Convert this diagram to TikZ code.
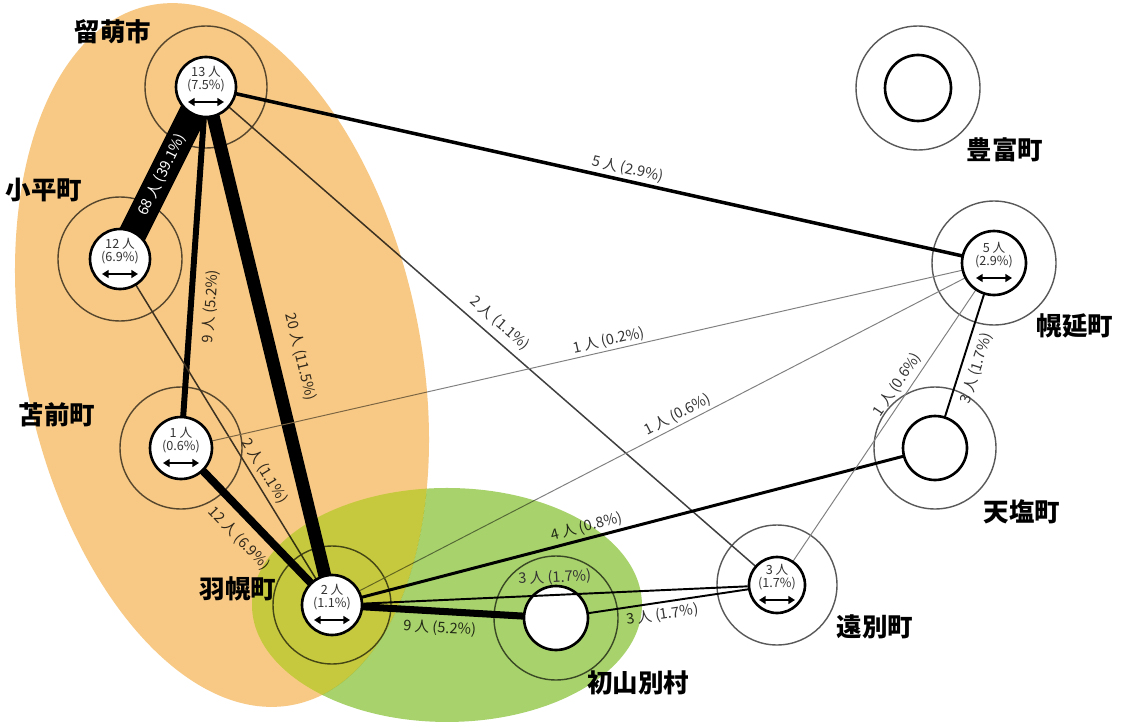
\documentclass[tikz,border=0pt]{standalone}
\usepackage{fontspec}
\setmainfont{Noto Sans CJK JP}
\usetikzlibrary{arrows.meta}
\pgfdeclarelayer{bg}
\pgfdeclarelayer{edges}
\pgfdeclarelayer{tint}
\pgfsetlayers{bg,edges,tint,main}

\definecolor{orangeT}{RGB}{247,201,133}
\definecolor{greenT}{RGB}{168,210,108}
\definecolor{overT}{RGB}{205,255,118}

\newcommand\labfont{\fontsize{8.3}{9}\selectfont}
\newcommand\incirc{\fontsize{7.2}{7.8}\selectfont}
\newcommand\townfont{\fontsize{14.5}{16}\selectfont\bfseries}

\tikzset{
 outerc/.style={circle, draw=black!65, line width=0.8pt, minimum size=#1, inner sep=0pt},
 innerc/.style={circle, draw=black, line width=1.5pt, fill=white, minimum size=#1, inner sep=0pt},
 cnt/.style={font=\incirc, align=center, inner sep=0pt, text=black!80},
 dbl/.style={{Triangle[length=3.8pt,width=4.5pt]}-{Triangle[length=3.8pt,width=4.5pt]}, line width=0.9pt},
 town/.style={font=\townfont, inner sep=0pt},
 lab/.style={font=\labfont, sloped, text=black!80},
 e1/.style={draw=black!50, line width=0.55pt},
 e2/.style={draw=black!75, line width=0.85pt},
 e3/.style={draw=black, line width=1.1pt},
 e4/.style={draw=black, line width=1.7pt},
 e5/.style={draw=black, line width=2pt},
 e9/.style={draw=black, line width=3.4pt},
 e9b/.style={draw=black, line width=4pt},
 e12/.style={draw=black, line width=4.5pt},
 e20/.style={draw=black, line width=7.4pt},
 e68/.style={draw=black, line width=16pt},
}

\newcommand\cinfo[3]{%
 \node[cnt] (#1-t) at ([shift={(0,-8)}]#1.center) {#2\\#3};
 \coordinate (#1-al) at ([shift={(-18,15)}]#1.center);
 \coordinate (#1-ar) at ([shift={(18,15)}]#1.center);
 \draw[dbl] (#1-al) -- (#1-ar);
}

\begin{document}
\begin{tikzpicture}[x=0.02cm, y=-0.02cm]
\useasboundingbox (0,0) rectangle (1125,723);
\begin{pgfonlayer}{bg}
\fill[white] (-10,-10) rectangle (1135,733);
\end{pgfonlayer}

% inner circles
\node[innerc=1.2cm]  (ru)  at (206,87)  {};
\node[innerc=1.2cm]  (ko)  at (120,259) {};
\node[innerc=1.24cm] (to)  at (181,448) {};
\node[innerc=1.2cm]  (ha)  at (332,605) {};
\node[innerc=1.28cm] (sh)  at (556,618) {};
\node[innerc=1.12cm] (en)  at (777,585) {};
\node[innerc=1.28cm] (te)  at (935,448) {};
\node[innerc=1.28cm] (ho)  at (994,263) {};
\node[innerc=1.32cm] (toy) at (918,88)  {};

\cinfo{ru}{13 人}{(7.5\%)}
\cinfo{ko}{12 人}{(6.9\%)}
\cinfo{to}{1 人}{(0.6\%)}
\cinfo{ha}{2 人}{(1.1\%)}
\cinfo{en}{3 人}{(1.7\%)}
\cinfo{ho}{5 人}{(2.9\%)}

% outer circles and edges
\begin{pgfonlayer}{edges}
\node[outerc=2.44cm] (ru-o)  at (ru)  {};
\node[outerc=2.48cm] (ko-o)  at (ko)  {};
\node[outerc=2.44cm] (to-o)  at (to)  {};
\node[outerc=2.36cm] (ha-o)  at (ha)  {};
\node[outerc=2.48cm] (sh-o)  at (sh)  {};
\node[outerc=2.4cm]  (en-o)  at (en)  {};
\node[outerc=2.44cm] (te-o)  at (te)  {};
\node[outerc=2.48cm] (ho-o)  at (ho)  {};
\node[outerc=2.48cm] (toy-o) at (toy) {};

\draw[e68] (ko.center) -- (ru.center);
\draw[e9]  (to.center) -- node[lab, pos=0.396, below, inner sep=5.5pt] (l9a) {9 人 (5.2\%)} (ru.center);
\draw[e20] (ru.center) -- node[lab, pos=0.534, above, inner sep=8pt] (l20) {20 人 (11.5\%)} (ha.center);
\draw[e5]  (ru.center) -- node[lab, pos=0.532, above, inner sep=1.5pt] (l5) {5 人 (2.9\%)} (ho.center);
\draw[e2]  (ru.center) -- node[lab, pos=0.497, above, inner sep=4pt] (l2a) {2 人 (1.1\%)} (en.center);
\draw[e2]  (ko.center) -- node[lab, pos=0.632, above, inner sep=2.5pt] (l2b) {2 人 (1.1\%)} (ha.center);
\draw[e12] (to.center) -- node[lab, pos=0.485, below, inner sep=5.5pt] (l12) {12 人 (6.9\%)} (ha.center);
\draw[e1]  (to.center) -- node[lab, pos=0.529, above, inner sep=1pt] (l1a) {1 人 (0.2\%)} (ho.center);
\draw[e1]  (ha.center) -- node[lab, pos=0.529, above, inner sep=1.5pt] (l1b) {1 人 (0.6\%)} (ho.center);
\draw[e4]  (ha.center) -- node[lab, pos=0.427, above, inner sep=1.5pt] (l4) {4 人 (0.8\%)} (te.center);
\draw[e9b] (ha.center) -- node[lab, pos=0.485, below, inner sep=3.5pt] (l9b) {9 人 (5.2\%)} (sh.center);
\draw[e3]  (sh.center) -- node[lab, pos=0.473, below, inner sep=2.5pt] (l3b) {3 人 (1.7\%)} (en.center);
\draw[e3]  (te.center) -- node[lab, pos=0.455, below, inner sep=4pt] (l3c) {3 人 (1.7\%)} (ho.center);
\draw[e1]  (en.center) -- node[lab, pos=0.601, above, inner sep=2.5pt] (l1c) {1 人 (0.6\%)} (ho.center);
\end{pgfonlayer}

% tinted areas
\begin{pgfonlayer}{tint}
\begin{scope}[blend mode=multiply]
 \fill[orangeT, shift={(222,355)}, rotate=11.7] (0,0) ellipse [x radius=198, y radius=357];
 \begin{scope}[shift={(222,355)}, rotate=11.7, even odd rule]
  \clip (-2000,-2000) rectangle (2000,2000) (0,0) ellipse [x radius=198, y radius=357];
  \begin{scope}[rotate=-11.7, shift={(-222,-355)}, nonzero rule]
   \fill[greenT] (447,605) ellipse [x radius=195, y radius=117];
  \end{scope}
 \end{scope}
 \begin{scope}[shift={(222,355)}, rotate=11.7]
  \clip (0,0) ellipse [x radius=198, y radius=357];
  \begin{scope}[rotate=-11.7, shift={(-222,-355)}]
   \fill[overT] (447,605) ellipse [x radius=195, y radius=117];
  \end{scope}
 \end{scope}
\end{scope}
\end{pgfonlayer}

% edge drawn above the Shosanbetsu circle
\draw[e3] (ha) -- node[lab, pos=0.5, above, inner sep=5pt] (l3a) {3 人 (1.7\%)} (en);
% white label on the thickest band
\path (ko.center) -- node[lab, pos=0.49, text=white] (l68) {68 人 (39.1\%)} (ru.center);

% town names
\node[town] (n-ru)  at (113,32)  {留萌市};
\node[town] (n-ko)  at (44,190)  {小平町};
\node[town] (n-to)  at (57,415)  {苫前町};
\node[town] (n-ha)  at (238,589) {羽幌町};
\node[town] (n-sh)  at (638,683) {初山別村};
\node[town] (n-en)  at (875,627) {遠別町};
\node[town] (n-te)  at (1022,512) {天塩町};
\node[town] (n-ho)  at (1075,326) {幌延町};
\node[town] (n-toy) at (1005,150) {豊富町};
\end{tikzpicture}
\end{document}
